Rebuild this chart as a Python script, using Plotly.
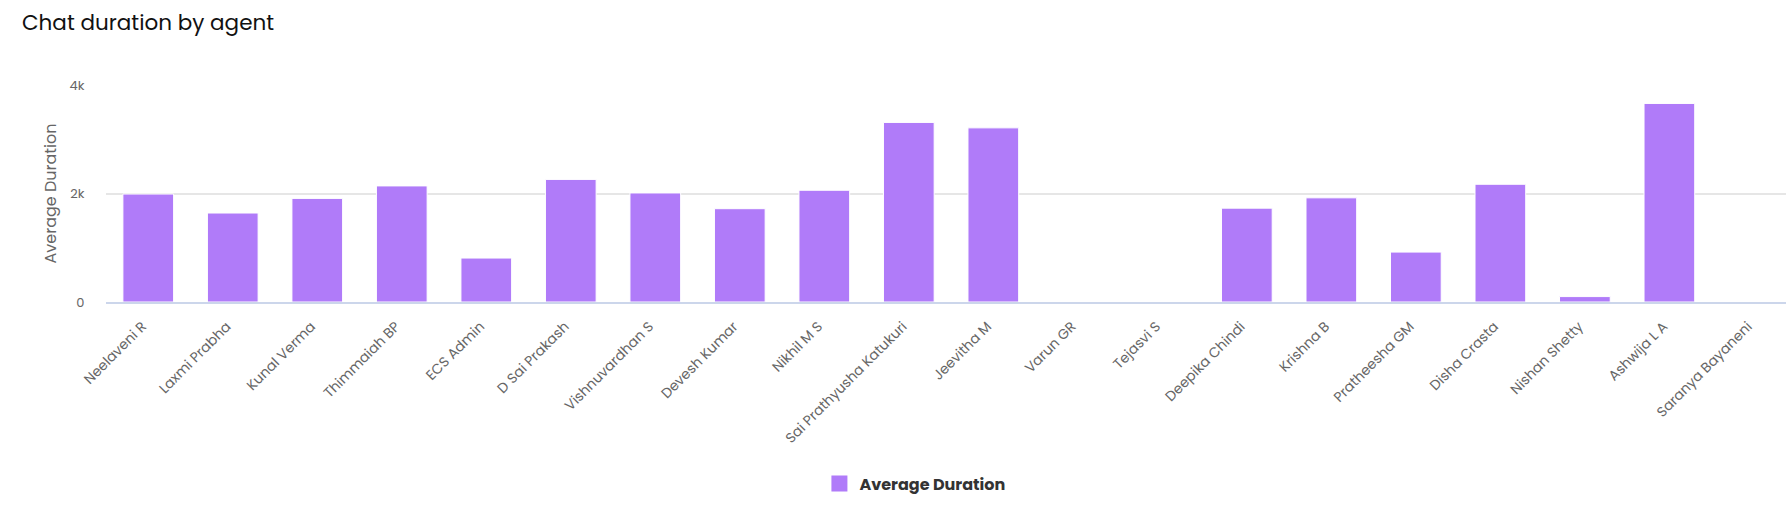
import plotly.graph_objects as go

agents = ["Neelaveni R", "Laxmi Prabha", "Kunal Verma", "Thimmaiah BP", "ECS Admin",
          "D Sai Prakash", "Vishnuvardhan S", "Devesh Kumar", "Nikhil M S",
          "Sai Prathyusha Katukuri", "Jeevitha M", "Varun GR", "Tejasvi S",
          "Deepika Chindi", "Krishna B", "Pratheesha GM", "Disha Crasta",
          "Nishan Shetty", "Ashwija L A", "Saranya Bayaneni"]
avg_duration = [1990, 1640, 1910, 2140, 810, 2260, 2010, 1720, 2060, 3310, 3210,
                0, 0, 1730, 1920, 920, 2170, 100, 3660, 0]
y_ticks = [0, 2000, 4000]
y_tick_labels = ["0", "2k", "4k"]

FONT = "Poppins, Inter, 'Open Sans', sans-serif"
BAR_COLOR = "#b07bf9"

fig = go.Figure()
fig.add_trace(go.Bar(
    x=agents, y=avg_duration, name="Average Duration",
    marker=dict(color=BAR_COLOR, line=dict(color="#ffffff", width=1)),
    width=0.6, showlegend=False,
))
# legend entry with a larger square swatch
fig.add_trace(go.Scatter(
    x=[None], y=[None], mode="markers", name="Average Duration",
    marker=dict(symbol="square", size=16, color=BAR_COLOR), showlegend=True,
))

fig.update_layout(
    width=1786, height=518,
    margin=dict(l=106, r=0, t=85, b=216, pad=0),
    paper_bgcolor="white", plot_bgcolor="white",
    font=dict(family=FONT, color="#666666"),
    title=dict(text="Chat duration by agent", x=22 / 1786, xref="container", xanchor="left",
               y=1 - 22 / 518, yref="container", yanchor="middle",
               font=dict(family=FONT, size=21.5, color="#111111")),
    showlegend=True,
    legend=dict(orientation="h", x=0.4815, xanchor="center", y=-0.837, yanchor="middle",
                itemsizing="trace",
                font=dict(family=FONT, size=16, color="#333333", weight="bold")),
    bargap=0.4,
)

fig.update_xaxes(
    type="category", range=[-0.5, 19.38], tickangle=-45,
    tickfont=dict(family=FONT, size=14, color="#666666"),
    ticklabelshift=-6,
    showline=True, linecolor="#ccd6eb", linewidth=1.5,
    ticks="outside", ticklen=9, tickcolor="rgba(0,0,0,0)",
    showgrid=False, fixedrange=True,
)
fig.update_yaxes(
    range=[0, 4000], tickvals=y_ticks, ticktext=y_tick_labels,
    tickfont=dict(family=FONT, size=13, color="#666666"),
    showgrid=True, gridcolor="#e6e6e6", gridwidth=1.5,
    zeroline=False, showline=False,
    ticks="outside", ticklen=18, tickcolor="rgba(0,0,0,0)",
    title=dict(text="Average Duration", font=dict(family=FONT, size=16, color="#666666"),
               standoff=8),
)

fig.write_html("out.html", config={"displayModeBar": False},
               post_script="document.body.style.margin='0';document.body.style.overflow='hidden';")
